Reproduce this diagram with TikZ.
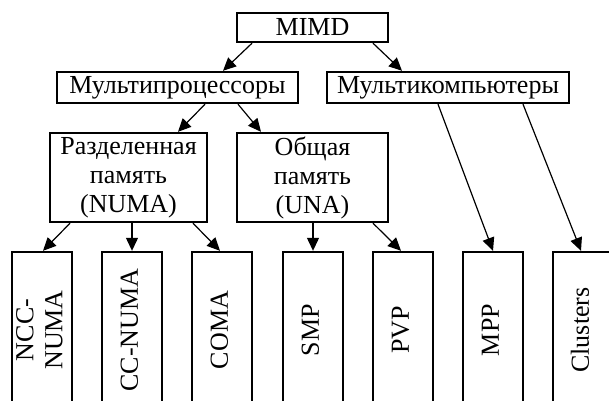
\documentclass[tikz,border=0pt]{standalone}
\usepackage{fontspec}
\setmainfont{Liberation Serif}
\usetikzlibrary{arrows.meta}
\begin{document}
\begin{tikzpicture}[x=1pt,y=-1pt,
  box/.style={draw,line width=2.4pt,inner sep=0pt,align=center,
    font=\fontsize{26}{29}\selectfont},
  tall/.style={box,minimum width=60pt,minimum height=156pt},
  conn/.style={line width=1.2pt,-{Triangle[length=13pt,width=12pt]}}]
\useasboundingbox (0,0) rectangle (609,400);
\clip (0,0) rectangle (609,400);
\node[box,minimum width=151pt,minimum height=29pt] (mimd) at (312.5,27.5) {MIMD};
\node[box,minimum width=241pt,minimum height=31pt] (mp) at (177.5,87.5) {Мультипроцессоры};
\node[box,minimum width=242pt,minimum height=31pt] (mc) at (448,87.5) {Мультикомпьютеры};
\node[box,minimum width=157pt,minimum height=89pt] (numa) at (128.5,177.5) {Разделенная\\память\\(NUMA)};
\node[box,minimum width=151pt,minimum height=89pt] (una) at (312.5,177.5) {Общая\\память\\(UNA)};
\newcommand{\vt}[1]{\rotatebox{90}{\begin{tabular}{@{}c@{}}#1\end{tabular}}}
\node[tall] (ncc) at (42,330) {\vt{NCC-\\NUMA}};
\node[tall] (cc) at (132,330) {\vt{CC-NUMA}};
\node[tall] (coma) at (222,330) {\vt{COMA}};
\node[tall] (smp) at (313,330) {\vt{SMP}};
\node[tall] (pvp) at (403,330) {\vt{PVP}};
\node[tall] (mpp) at (493,330) {\vt{MPP}};
\node[tall] (cl) at (583,330) {\vt{Clusters}};
\draw[conn] ([xshift=-60.5pt]mimd.south) -- ([xshift=45.5pt]mp.north);
\draw[conn] ([xshift=60.5pt]mimd.south) -- ([xshift=-46pt]mc.north);
\draw[conn] ([xshift=27.5pt]mp.south) -- ([xshift=49.5pt]numa.north);
\draw[conn] ([xshift=60.5pt]mp.south) -- ([xshift=-51.5pt]una.north);
\draw[conn] ([xshift=-10pt]mc.south) -- (mpp.north);
\draw[conn] ([xshift=75pt]mc.south) -- ([xshift=-2pt]cl.north);
\draw[conn] ([xshift=-58.5pt]numa.south) -- ([xshift=1pt]ncc.north);
\draw[conn] ([xshift=3.5pt]numa.south) -- (cc.north);
\draw[conn] ([xshift=64.5pt]numa.south) -- ([xshift=-2pt]coma.north);
\draw[conn] ([xshift=0.5pt]una.south) -- (smp.north);
\draw[conn] ([xshift=60.5pt]una.south) -- ([xshift=-2pt]pvp.north);
\end{tikzpicture}
\end{document}
